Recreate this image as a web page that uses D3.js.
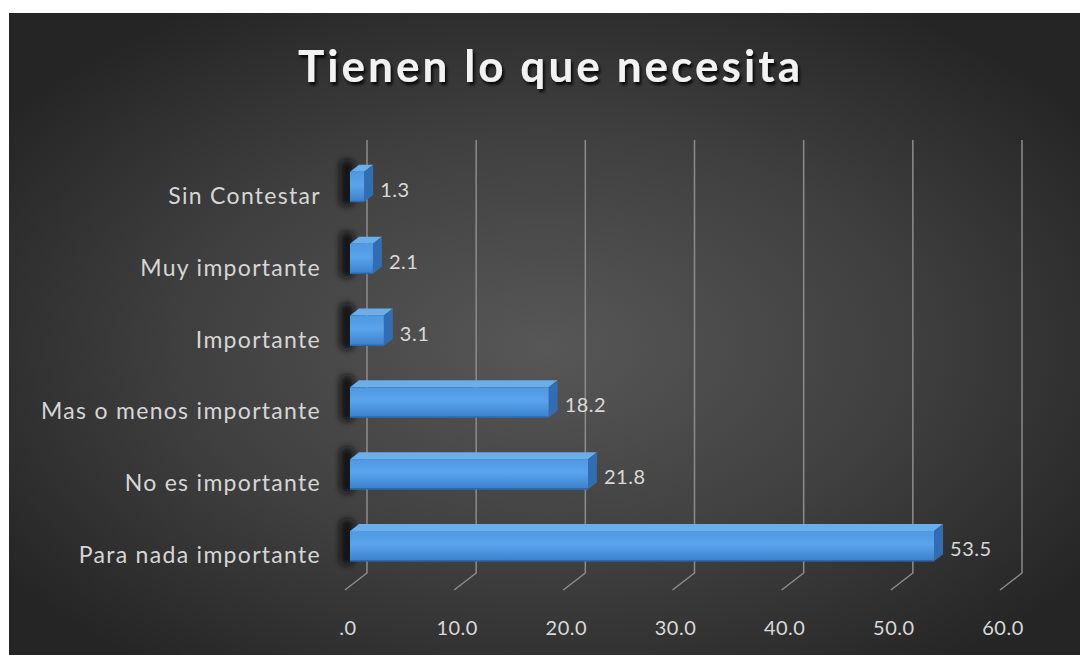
<!DOCTYPE html>
<html>
<head>
<meta charset="utf-8">
<script src="https://cdn.jsdelivr.net/npm/d3@7"></script>
<style>
  html, body { margin: 0; padding: 0; background: #ffffff; }
  svg { display: block; }
</style>
</head>
<body>
<svg id="chart" width="1080" height="655"></svg>
<script>
// Survey answers, top to bottom as shown
const categories = [
  "Sin Contestar",
  "Muy importante",
  "Importante",
  "Mas o menos importante",
  "No es importante",
  "Para nada importante"
];
const values = [1.3, 2.1, 3.1, 18.2, 21.8, 53.5];
const tickValues = [0, 10, 20, 30, 40, 50, 60];
const tickLabels = [".0", "10.0", "20.0", "30.0", "40.0", "50.0", "60.0"];
const title = "Tienen lo que necesita";

const W = 1080, H = 655;
const svg = d3.select("#chart");
const defs = svg.append("defs");

// chart area background: radial dark-grey gradient
const bg = defs.append("radialGradient").attr("id", "bg")
  .attr("cx", "50%").attr("cy", "52%").attr("r", "62%");
bg.append("stop").attr("offset", "0%").attr("stop-color", "#575757");
bg.append("stop").attr("offset", "55%").attr("stop-color", "#3f3f3f");
bg.append("stop").attr("offset", "100%").attr("stop-color", "#252525");

const front = defs.append("linearGradient").attr("id", "barFront")
  .attr("x1", 0).attr("y1", 0).attr("x2", 0).attr("y2", 1);
front.append("stop").attr("offset", "0%").attr("stop-color", "#4f98e2");
front.append("stop").attr("offset", "45%").attr("stop-color", "#5aa4ec");
front.append("stop").attr("offset", "100%").attr("stop-color", "#3a80cc");

const shadowBlur = defs.append("filter").attr("id", "soft")
  .attr("x", "-50%").attr("y", "-50%").attr("width", "200%").attr("height", "200%");
shadowBlur.append("feGaussianBlur").attr("stdDeviation", 3);

const titleShadow = defs.append("filter").attr("id", "tshadow")
  .attr("x", "-10%").attr("y", "-30%").attr("width", "120%").attr("height", "160%");
titleShadow.append("feDropShadow").attr("dx", 2).attr("dy", 3)
  .attr("stdDeviation", 1.5).attr("flood-color", "#000").attr("flood-opacity", 0.85);

svg.append("rect").attr("x", 9).attr("y", 13)
  .attr("width", W - 9).attr("height", H - 13).attr("fill", "url(#bg)");

// Scales: back wall, front plane of the bars, and category bands
const xBack = d3.scaleLinear().domain([0, 60]).range([367, 1022]);
const xBar = d3.scaleLinear().domain([0, 60]).range([350, 1005]);
const floorDX = -22, floorDY = 17;      // back wall -> front edge of floor
const depthDX = 9, depthDY = -7;        // bar depth
const wallTop = 140, wallBottom = 573;

const y = d3.scaleBand().domain(categories)
  .range([151, 582]).paddingInner(0.58).paddingOuter(0.29);

// Gridlines on the back wall, folding onto the floor
const grid = svg.append("g");
tickValues.forEach(t => {
  const xb = xBack(t);
  grid.append("path")
    .attr("d", `M${xb},${wallTop} L${xb},${wallBottom} L${xb + floorDX},${wallBottom + floorDY}`)
    .attr("fill", "none").attr("stroke", "#8c8c8c").attr("stroke-width", 1.5);
});

// Value axis labels along the front edge of the floor
svg.append("g").selectAll("text").data(tickValues).join("text")
  .attr("x", (d, i) => xBack(d) + floorDX + 3)
  .attr("y", 627)
  .attr("text-anchor", "middle")
  .attr("dominant-baseline", "central")
  .attr("font-family", "Lato, 'Noto Sans', sans-serif")
  .attr("font-size", 20)
  .attr("letter-spacing", 0.5)
  .attr("fill", "#d9d9d9")
  .text((d, i) => tickLabels[i]);

// Dark shade on the side wall next to each bar
svg.append("g").selectAll("rect").data(categories).join("rect")
  .attr("x", 340).attr("y", d => y(d) - 12)
  .attr("width", 14).attr("height", y.bandwidth() + 16)
  .attr("rx", 5)
  .attr("fill", "#0d0d0d").attr("opacity", 0.85)
  .attr("filter", "url(#soft)");

// 3D bars
const bars = svg.append("g").selectAll("g").data(values).join("g");
bars.each(function (v, i) {
  const g = d3.select(this);
  const x0 = xBar(0), x1 = xBar(v);
  const y0 = y(categories[i]), y1 = y0 + y.bandwidth();
  // top face
  g.append("path")
    .attr("d", `M${x0},${y0} L${x0 + depthDX},${y0 + depthDY} L${x1 + depthDX},${y0 + depthDY} L${x1},${y0} Z`)
    .attr("fill", "#6aaeea");
  // right end face
  g.append("path")
    .attr("d", `M${x1},${y0} L${x1 + depthDX},${y0 + depthDY} L${x1 + depthDX},${y1 + depthDY} L${x1},${y1} Z`)
    .attr("fill", "#2f6db4");
  // front face
  g.append("rect")
    .attr("x", x0).attr("y", y0)
    .attr("width", x1 - x0).attr("height", y1 - y0)
    .attr("fill", "url(#barFront)");
  g.append("line")
    .attr("x1", x0).attr("x2", x1).attr("y1", y1 - 0.5).attr("y2", y1 - 0.5)
    .attr("stroke", "#2d68aa").attr("stroke-width", 1.5);
});

// Data labels
svg.append("g").selectAll("text").data(values).join("text")
  .attr("x", d => xBar(d) + depthDX + 7)
  .attr("y", (d, i) => y(categories[i]) + y.bandwidth() / 2 + 2)
  .attr("dominant-baseline", "central")
  .attr("font-family", "Lato, 'Noto Sans', sans-serif")
  .attr("font-size", 20)
  .attr("letter-spacing", 0.5)
  .attr("fill", "#d9d9d9")
  .text(d => d.toFixed(1));

// Category labels
svg.append("g").selectAll("text").data(categories).join("text")
  .attr("x", 321)
  .attr("y", d => y(d) + y.bandwidth() / 2 + 8)
  .attr("text-anchor", "end")
  .attr("dominant-baseline", "central")
  .attr("font-family", "Lato, 'Noto Sans', sans-serif")
  .attr("font-size", 23)
  .attr("letter-spacing", 1.3)
  .attr("fill", "#d6d6d6")
  .text(d => d);

// Title
svg.append("text")
  .attr("x", 298).attr("y", 82)
  .attr("textLength", 502).attr("lengthAdjust", "spacing")
  .attr("font-family", "Lato, 'Noto Sans', sans-serif")
  .attr("font-weight", "bold")
  .attr("font-size", 44)
  .attr("fill", "#f2f2f2")
  .attr("filter", "url(#tshadow)")
  .text(title);
</script>
</body>
</html>
